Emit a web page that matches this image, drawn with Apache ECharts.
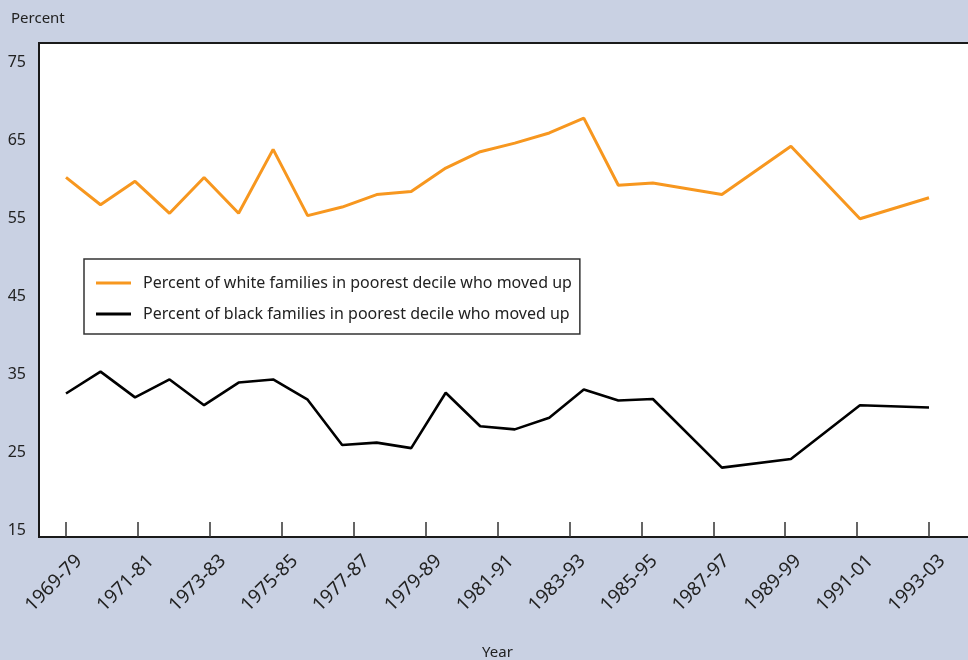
<!DOCTYPE html>
<html>
<head>
<meta charset="utf-8">
<script src="https://cdn.jsdelivr.net/npm/echarts@6/dist/echarts.min.js"></script>
<style>
  html, body { margin: 0; padding: 0; background: #c9d1e3; }
  #chart { width: 968px; height: 660px; }
</style>
</head>
<body>
<div id="chart"></div>
<script>
// one slot per plotted point; the survey went biennial after 1997, so the late slots have gaps
const periods = [
  '1969-79', '1970-80', '1971-81', '1972-82', '1973-83', '1974-84', '1975-85',
  '1976-86', '1977-87', '1978-88', '1979-89', '1980-90', '1981-91', '1982-92',
  '1983-93', '1984-94', '1985-95', '1986-96', 'gap-a', '1987-97', 'gap-b',
  '1989-99', 'gap-c', '1991-01', 'gap-d', '1993-03'
]
const tickLabels = [
  '1969-79', '1971-81', '1973-83', '1975-85', '1977-87', '1979-89', '1981-91',
  '1983-93', '1985-95', '1987-97', '1989-99', '1991-01', '1993-03'
]
const whiteMovedUp = [
  60.2, 56.7, 59.7, 55.6, 60.2, 55.6, 63.8, 55.3, 56.4, 58.0, 58.4, 61.4, 63.5,
  64.6, 65.9, 67.8, 59.2, 59.5, null, 58.0, null, 64.2, null, 54.9, null, 57.6
]
const blackMovedUp = [
  32.5, 35.3, 32.0, 34.3, 31.0, 33.9, 34.3, 31.7, 25.9, 26.2, 25.5, 32.6, 28.3,
  27.9, 29.4, 33.0, 31.6, 31.8, null, 23.0, null, 24.1, null, 31.0, null, 30.7
]

const font = 'Noto Sans'
const ink = '#222'
// plain stroke for the legend keys
const lineKey = 'path://M0,0 L36,0 L36,3 L0,3 Z'

const chart = echarts.init(document.getElementById('chart'))

chart.setOption({
  backgroundColor: '#c9d1e3',
  animation: false,
  textStyle: { fontFamily: font },
  title: {
    text: 'Percent',
    left: 6,
    top: 6,
    textStyle: { fontFamily: font, fontSize: 15, fontWeight: 'normal', color: ink }
  },
  graphic: [{
    type: 'rect',
    z: -10,
    shape: { x: 39, y: 43, width: 960, height: 494 },
    style: { fill: '#fff', stroke: '#1a1a1a', lineWidth: 2 }
  }],
  legend: {
    left: 84,
    top: 259,
    orient: 'vertical',
    padding: [16, 8, 12, 12],
    itemWidth: 35,
    itemHeight: 14,
    itemGap: 15,
    icon: lineKey,
    backgroundColor: '#fff',
    borderColor: '#333',
    borderWidth: 1.5,
    borderRadius: 0,
    textStyle: { fontFamily: font, fontSize: 16, color: ink, padding: [0, 0, 0, 7] }
  },
  // grid 0 holds the lines and ticks, grid 1 only carries the slanted year labels
  grid: [
    { left: 66, right: 39, top: 62, bottom: 130, outerBoundsMode: 'none' },
    { left: 79, right: 26, top: 62, bottom: 130, outerBoundsMode: 'none' }
  ],
  xAxis: [{
    type: 'category',
    gridIndex: 0,
    data: periods,
    boundaryGap: false,
    show: false
  }, {
    type: 'category',
    gridIndex: 0,
    data: tickLabels,
    boundaryGap: false,
    position: 'bottom',
    offset: 7,
    name: 'Year',
    nameLocation: 'middle',
    nameGap: 108,
    nameTextStyle: { fontFamily: font, fontSize: 15, color: ink },
    axisLine: { show: false },
    axisTick: { inside: true, length: 15, lineStyle: { color: '#333', width: 1.5 } },
    axisLabel: { show: false },
    splitLine: { show: false }
  }, {
    type: 'category',
    gridIndex: 1,
    data: tickLabels,
    boundaryGap: false,
    position: 'bottom',
    offset: 7,
    axisLine: { show: false },
    axisTick: { show: false },
    axisLabel: { rotate: 45, fontFamily: font, fontSize: 19, color: ink, margin: 21, interval: 0 },
    splitLine: { show: false }
  }],
  yAxis: [{
    type: 'value',
    gridIndex: 0,
    min: 15,
    max: 75,
    interval: 10,
    offset: 27,
    axisLine: { show: false },
    axisTick: { inside: true, length: 12, lineStyle: { color: '#333', width: 1.5 } },
    axisLabel: { fontFamily: font, fontSize: 16, color: ink, margin: 13 },
    splitLine: { show: false }
  }, {
    type: 'value',
    gridIndex: 1,
    min: 15,
    max: 75,
    show: false
  }],
  series: [{
    name: 'Percent of white families in poorest decile who moved up',
    type: 'line',
    xAxisIndex: 0,
    yAxisIndex: 0,
    data: whiteMovedUp,
    connectNulls: true,
    symbol: 'none',
    color: '#f7971f',
    lineStyle: { color: '#f7971f', width: 3 }
  }, {
    name: 'Percent of black families in poorest decile who moved up',
    type: 'line',
    xAxisIndex: 0,
    yAxisIndex: 0,
    data: blackMovedUp,
    connectNulls: true,
    symbol: 'none',
    color: '#000',
    lineStyle: { color: '#000', width: 2.6 }
  }]
})
</script>
</body>
</html>
